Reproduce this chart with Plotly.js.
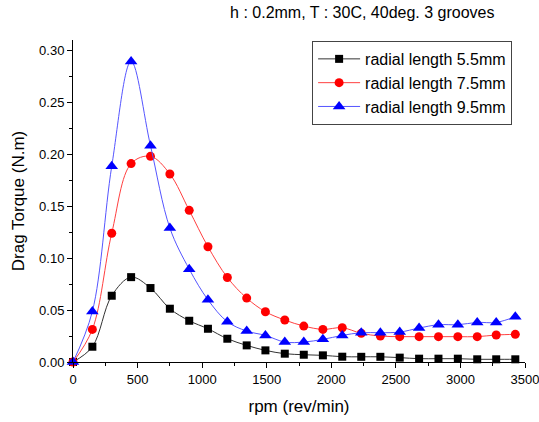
<!DOCTYPE html>
<html>
<head>
<meta charset="utf-8">
<script src="https://cdn.plot.ly/plotly-3.0.1.min.js"></script>
<style>html,body{margin:0;padding:0;background:#fff;}#chart{width:539px;height:422px;}</style>
</head>
<body>
<div id="chart"></div>
<script>
const rpm = [0,150,300,450,600,750,900,1045,1195,1345,1490,1640,1787,1935,2085,2232,2380,2530,2680,2830,2980,3130,3277,3425];
const torque55 = [0,0.0147,0.0638,0.0817,0.0712,0.0513,0.0397,0.032,0.0224,0.016,0.0112,0.008,0.007,0.0064,0.0051,0.005,0.005,0.0042,0.0032,0.0032,0.0032,0.0026,0.0026,0.0026];
const torque75 = [0,0.0314,0.124,0.191,0.198,0.181,0.146,0.111,0.0814,0.0615,0.0484,0.0404,0.0346,0.0314,0.033,0.0276,0.025,0.0244,0.0244,0.0244,0.0244,0.0244,0.026,0.0266];
const torque95 = [0,0.0487,0.1885,0.2894,0.2083,0.129,0.0894,0.0599,0.0388,0.0298,0.0256,0.0192,0.0192,0.0218,0.0256,0.0282,0.0282,0.0288,0.0327,0.0359,0.0359,0.0381,0.0381,0.0436];
const names = ["radial length 5.5mm","radial length 7.5mm","radial length 9.5mm"];
const titleText = "h : 0.2mm, T : 30C, 40deg. 3 grooves";
const xTitle = "rpm (rev/min)";
const yTitle = "Drag Torque (N.m)";

const FONT = "Arial, 'Liberation Sans', sans-serif";
function tr(y, name, color, lineColor, symbol, size) {
  return {
    x: rpm, y: y, name: name, type: 'scatter', mode: 'lines+markers',
    line: {color: lineColor, width: 1, shape: 'spline', smoothing: 1},
    marker: {color: color, symbol: symbol, size: size, line: {width: 0}},
    cliponaxis: false
  };
}
const data = [
  tr(torque55, names[0], '#000000', '#333333', 'square', 8),
  tr(torque75, names[1], '#ff0000', '#ff4040', 'circle', 9),
  tr(torque95, names[2], '#0000ff', '#5555ff', 'triangle-up', 11)
];
const layout = {
  width: 539, height: 422,
  margin: {l: 73, r: 14, t: 40, b: 60},
  paper_bgcolor: '#fff', plot_bgcolor: '#fff',
  font: {family: FONT, color: '#000', size: 13},
  title: {text: titleText, font: {family: FONT, size: 16, color: '#000'},
          x: 0.64, xref: 'paper', xanchor: 'center', y: 0.97, yanchor: 'middle'},
  xaxis: {
    range: [0, 3500], tickvals: [0,500,1000,1500,2000,2500,3000,3500],
    ticks: 'outside', ticklen: 5, tickwidth: 1, tickcolor: '#000',
    minor: {dtick: 250, ticks: 'outside', ticklen: 3, tickcolor: '#000'},
    showline: true, linecolor: '#000', linewidth: 1, mirror: false,
    showgrid: false, zeroline: false,
    tickfont: {size: 13, family: FONT}, ticklabeloverflow: 'allow',
    title: {text: xTitle, font: {size: 17, family: FONT}, standoff: 14},
    automargin: false
  },
  yaxis: {
    range: [0, 0.31], tickvals: [0,0.05,0.10,0.15,0.20,0.25,0.30], tickformat: '.2f',
    ticks: 'outside', ticklen: 5, tickwidth: 1, tickcolor: '#000',
    minor: {dtick: 0.025, ticks: 'outside', ticklen: 3, tickcolor: '#000'},
    showline: true, linecolor: '#000', linewidth: 1, mirror: false,
    showgrid: false, zeroline: false,
    tickfont: {size: 13, family: FONT},
    title: {text: yTitle, font: {size: 17, family: FONT}, standoff: 10},
    automargin: false
  },
  legend: {
    x: 0.529, y: 0.997, xanchor: 'left', yanchor: 'top',
    bgcolor: '#fff', bordercolor: '#444', borderwidth: 1,
    font: {size: 16, family: FONT}, tracegroupgap: 0, itemwidth: 42
  },
  showlegend: true
};
Plotly.newPlot('chart', data, layout, {displayModeBar: false, staticPlot: true});
</script>
</body>
</html>
